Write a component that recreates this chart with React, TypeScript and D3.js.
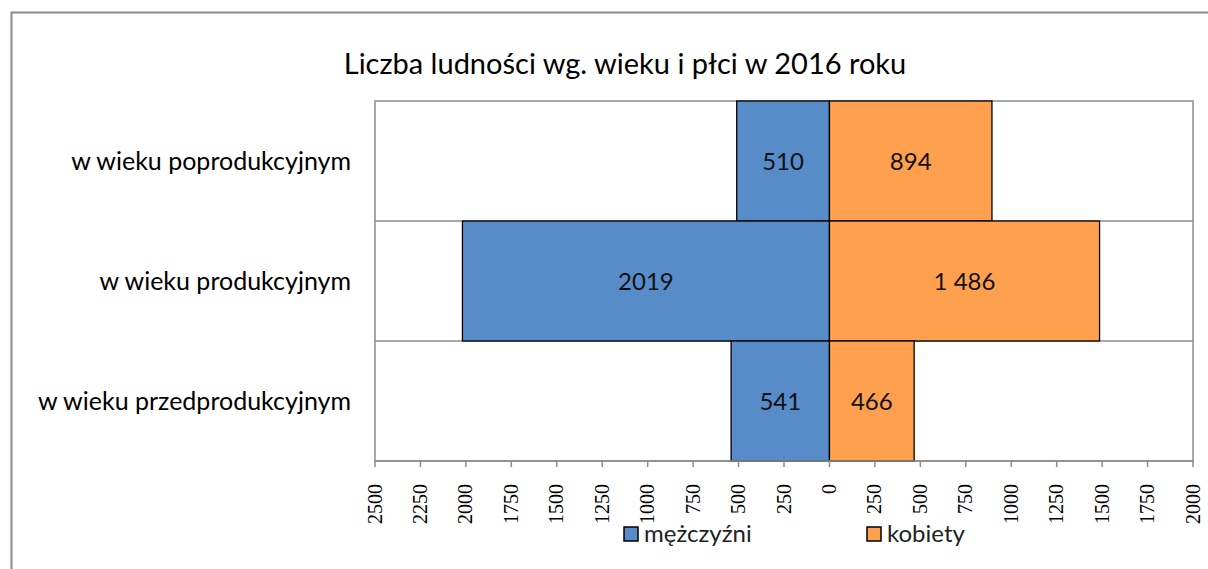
import React from "react";
import * as d3 from "d3";

const categories = [
  "w wieku poprodukcyjnym",
  "w wieku produkcyjnym",
  "w wieku przedprodukcyjnym",
];
const men = [510, 2019, 541];
const women = [894, 1486, 466];
const menLabels = ["510", "2019", "541"];
const womenLabels = ["894", "1 486", "466"];
const ticks = [-2500, -2250, -2000, -1750, -1500, -1250, -1000, -750, -500, -250, 0, 250, 500, 750, 1000, 1250, 1500, 1750, 2000];
const title = "Liczba ludności wg. wieku i płci w 2016 roku";
const seriesNames = ["mężczyźni", "kobiety"];

const BLUE = "#578CC9";
const ORANGE = "#FFA04F";
const FONT = "Lato, 'Open Sans', sans-serif";
const SERIF = "'Liberation Serif', 'DejaVu Serif', serif";

const App = () => {
  const left = 375;
  const right = 1193;
  const top = 101;
  const bottom = 461;

  const x = d3.scaleLinear().domain([-2500, 2000]).range([left, right]);
  const y = d3.scaleBand().domain(categories).range([top, bottom]).padding(0);

  return (
    <svg width={1208} height={569} style={{ position: "absolute", left: 0, top: 0 }}>
      <rect x={0} y={0} width={1208} height={569} fill="#fff" />
      {/* chart frame */}
      <path d="M11.5,569 V12.5 H1208" fill="none" stroke="#8c8c8c" strokeWidth={2} />
      <text x={625} y={74} textAnchor="middle" fontFamily={FONT} fontSize={29} fill="#000">
        {title}
      </text>

      {/* plot area */}
      <rect x={left} y={top} width={right - left} height={bottom - top} fill="#fff" stroke="#8c8c8c" strokeWidth={1.5} />
      {categories.slice(1).map((c) => (
        <line key={c} x1={left} x2={right} y1={y(c)} y2={y(c)} stroke="#8c8c8c" strokeWidth={1.5} />
      ))}

      {categories.map((c, i) => (
        <g key={c}>
          <rect x={x(-men[i])} y={y(c)} width={x(0) - x(-men[i])} height={y.bandwidth()} fill={BLUE} stroke="#000" strokeWidth={1.3} />
          <rect x={x(0)} y={y(c)} width={x(women[i]) - x(0)} height={y.bandwidth()} fill={ORANGE} stroke="#000" strokeWidth={1.3} />
          <text x={(x(-men[i]) + x(0)) / 2} y={y(c)! + y.bandwidth() / 2} dy="0.36em" textAnchor="middle" fontFamily={FONT} fontSize={24} fill="#111">
            {menLabels[i]}
          </text>
          <text x={(x(women[i]) + x(0)) / 2} y={y(c)! + y.bandwidth() / 2} dy="0.36em" textAnchor="middle" fontFamily={FONT} fontSize={24} fill="#111">
            {womenLabels[i]}
          </text>
          <text x={351} y={y(c)! + y.bandwidth() / 2} dy="0.36em" textAnchor="end" fontFamily={FONT} fontSize={25} fill="#000">
            {c}
          </text>
        </g>
      ))}

      {/* x axis */}
      <line x1={left} x2={right} y1={bottom} y2={bottom} stroke="#8c8c8c" strokeWidth={1.5} />
      {ticks.map((t) => (
        <g key={t} transform={`translate(${x(t)},${bottom})`}>
          <line y1={0} y2={6} stroke="#8c8c8c" strokeWidth={1.5} />
          <text transform="rotate(-90)" x={-23} y={0} dy="0.33em" textAnchor="end" fontFamily={SERIF} fontSize={20} fill="#000">
            {Math.abs(t)}
          </text>
        </g>
      ))}

      {/* legend */}
      <rect x={624} y={527} width={14} height={14} fill={BLUE} stroke="#000" strokeWidth={1.5} />
      <text x={644} y={542} fontFamily={FONT} fontSize={24} fill="#222">{seriesNames[0]}</text>
      <rect x={867} y={527} width={14} height={14} fill={ORANGE} stroke="#000" strokeWidth={1.5} />
      <text x={887} y={542} fontFamily={FONT} fontSize={24} fill="#222">{seriesNames[1]}</text>
    </svg>
  );
};

export default App;
